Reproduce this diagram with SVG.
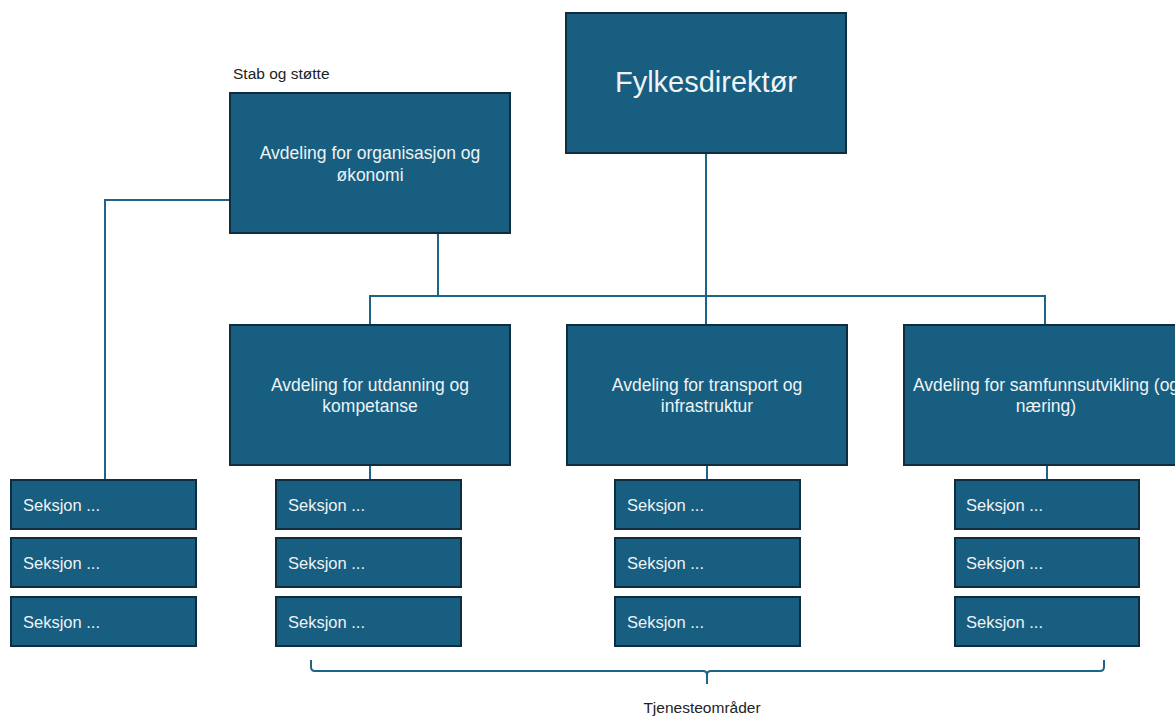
<svg xmlns="http://www.w3.org/2000/svg" width="1175" height="718" viewBox="0 0 1175 718">
<style>
.box{fill:#175e80;stroke:#0f2d3e;stroke-width:2}
.t{fill:#eef3f6;font-family:"Liberation Sans",Arial,sans-serif;font-size:17.5px;text-anchor:middle}
.s{fill:#eef3f6;font-family:"Liberation Sans",Arial,sans-serif;font-size:16.5px}
.lbl{fill:#222;font-family:"Liberation Sans",Arial,sans-serif;font-size:15.5px}
.c{fill:none;stroke:#1d6588;stroke-width:2}
</style>
<rect width="1175" height="718" fill="#fff"/>
<g id="connectors">
<path class="c" d="M706 153V296M370 325V296H1045V325M706 296V325M438 233V296M230 200H105V480M370 465V480M707 465V480M1047 465V480"/>
<path class="c" d="M311 660V667Q311 671 315 671H703Q707 671 707 675V684M707 675Q707 671 711 671H1100Q1104 671 1104 667V660"/>
</g>
<g id="fylkesdirektor"><rect class="box" x="566" y="13" width="280" height="140"/><text class="t" x="706" y="92" style="font-size:29px">Fylkesdirektør</text></g>
<g id="stab-label"><text class="lbl" x="233" y="79">Stab og støtte</text></g>
<g id="org"><rect class="box" x="230" y="93" width="280" height="140"/><text class="t" x="370" y="159">Avdeling for organisasjon og</text><text class="t" x="370" y="181">økonomi</text></g>
<g id="utdanning"><rect class="box" x="230" y="325" width="280" height="140"/><text class="t" x="370" y="391">Avdeling for utdanning og</text><text class="t" x="370" y="412">kompetanse</text></g>
<g id="transport"><rect class="box" x="567" y="325" width="280" height="140"/><text class="t" x="707" y="391">Avdeling for transport og</text><text class="t" x="707" y="412">infrastruktur</text></g>
<g id="samfunn"><rect class="box" x="904" y="325" width="290" height="140"/><text class="t" x="1046" y="391">Avdeling for samfunnsutvikling (og</text><text class="t" x="1046" y="412">næring)</text></g>
<g id="sek-a1"><rect class="box" x="11" y="480" width="185" height="49"/><text class="s" x="23" y="511">Seksjon ...</text></g>
<g id="sek-a2"><rect class="box" x="11" y="538" width="185" height="49"/><text class="s" x="23" y="569">Seksjon ...</text></g>
<g id="sek-a3"><rect class="box" x="11" y="597" width="185" height="49"/><text class="s" x="23" y="628">Seksjon ...</text></g>
<g id="sek-b1"><rect class="box" x="276" y="480" width="185" height="49"/><text class="s" x="288" y="511">Seksjon ...</text></g>
<g id="sek-b2"><rect class="box" x="276" y="538" width="185" height="49"/><text class="s" x="288" y="569">Seksjon ...</text></g>
<g id="sek-b3"><rect class="box" x="276" y="597" width="185" height="49"/><text class="s" x="288" y="628">Seksjon ...</text></g>
<g id="sek-c1"><rect class="box" x="615" y="480" width="185" height="49"/><text class="s" x="627" y="511">Seksjon ...</text></g>
<g id="sek-c2"><rect class="box" x="615" y="538" width="185" height="49"/><text class="s" x="627" y="569">Seksjon ...</text></g>
<g id="sek-c3"><rect class="box" x="615" y="597" width="185" height="49"/><text class="s" x="627" y="628">Seksjon ...</text></g>
<g id="sek-d1"><rect class="box" x="955" y="480" width="184" height="49"/><text class="s" x="966" y="511">Seksjon ...</text></g>
<g id="sek-d2"><rect class="box" x="955" y="538" width="184" height="49"/><text class="s" x="966" y="569">Seksjon ...</text></g>
<g id="sek-d3"><rect class="box" x="955" y="597" width="184" height="49"/><text class="s" x="966" y="628">Seksjon ...</text></g>
<g id="tjenester-label"><text class="lbl" x="702" y="713" text-anchor="middle">Tjenesteområder</text></g>
</svg>
